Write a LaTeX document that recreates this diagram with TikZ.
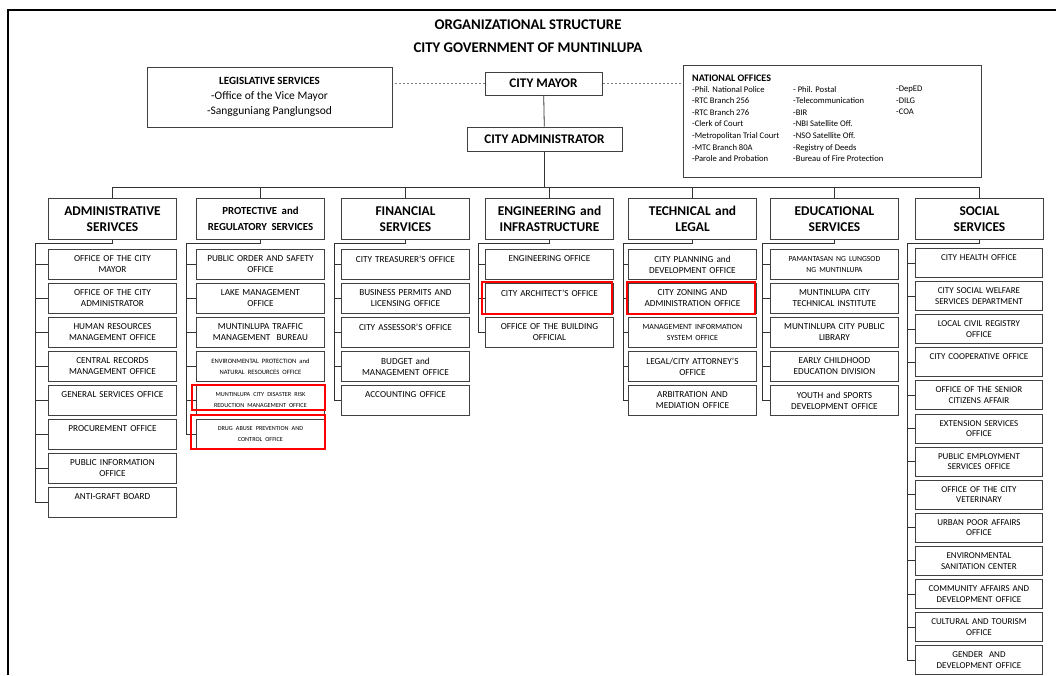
\documentclass[tikz,border=0pt]{standalone}
\usepackage{fontspec}
\setmainfont{Carlito}
\usepackage{tikz}

\tikzset{
  dept/.style={draw=black!75, line width=1pt, minimum width=128pt, minimum height=41pt,
    text width=126pt, align=center, inner sep=0pt, font=\bfseries\fontsize{13.4}{16}\selectfont},
  office/.style={draw=black!75, line width=0.9pt, minimum width=128pt, minimum height=30pt,
    text width=126pt, align=center, inner sep=0pt, font=\fontsize{9.2}{11}\selectfont},
  social/.style={office, minimum width=127pt, minimum height=29pt, font=\fontsize{9}{10.5}\selectfont},
  chief/.style={draw=black!75, line width=1pt, inner sep=0pt, font=\bfseries\fontsize{13.2}{15}\selectfont},
  hilite/.style={draw=red, line width=1.6pt},
  link/.style={draw=black!80, line width=0.8pt},
  dotlink/.style={draw=black!50, line width=0.8pt, dash pattern=on 2pt off 2pt},
}

\begin{document}
\begin{tikzpicture}[x=1pt,y=-1pt]
\useasboundingbox (0,0) rectangle (1056,675);
\draw[line width=2pt] (7.5,675) -- (7.5,9.5) -- (1056,9.5);

\node[font=\bfseries\fontsize{14.8}{16}\selectfont] (title) at (528,25) {ORGANIZATIONAL STRUCTURE};
\node[font=\bfseries\fontsize{14.8}{16}\selectfont] (subtitle) at (528,48) {CITY GOVERNMENT OF MUNTINLUPA};

\node[chief, minimum width=117pt, minimum height=23pt] (mayor) at (543.5,83.5) {CITY MAYOR};
\node[chief, minimum width=155pt, minimum height=24pt] (cadm) at (544.5,139) {CITY ADMINISTRATOR};

\node[draw=black!75, line width=1pt, minimum width=245pt, minimum height=60pt, align=center,
  font=\fontsize{11.5}{15}\selectfont] (leg) at (269.5,97)
  {\textbf{\fontsize{11}{15}\selectfont LEGISLATIVE SERVICES}\\-Office of the Vice Mayor\\-Sangguniang Panglungsod};

\node[draw=black!75, line width=1pt, minimum width=298pt, minimum height=112pt] (nat) at (832,121) {};
\node[anchor=west, inner sep=0pt, font=\bfseries\fontsize{10}{12}\selectfont] (natT) at (692,78) {NATIONAL OFFICES};
\node[anchor=north west, align=left, inner sep=0pt, font=\fontsize{8.6}{11.6}\selectfont] (natA) at (692,86)
  {-Phil. National Police\\-RTC Branch 256\\-RTC Branch 276\\-Clerk of Court\\-Metropolitan Trial Court\\-MTC Branch 80A\\-Parole and Probation};
\node[anchor=north west, align=left, inner sep=0pt, font=\fontsize{8.6}{11.6}\selectfont] (natB) at (793,86)
  {- Phil. Postal\\-Telecommunication\\-BIR\\-NBI Satellite Off.\\-NSO Satellite Off.\\-Registry of Deeds\\-Bureau of Fire Protection};
\node[anchor=north west, align=left, inner sep=0pt, font=\fontsize{8.6}{11.6}\selectfont] (natC) at (896,86)
  {-DepED\\-DILG\\-COA};

\draw[link] (mayor) -- (cadm);
\draw[dotlink] (mayor.west) -- (mayor.west -| leg.east);
\draw[dotlink] (mayor.east) -- (mayor.east -| nat.west);

\foreach \d/\x/\t in {adm/48/{ADMINISTRATIVE\\SERIVCES},
    prt/196/{\fontsize{10.8}{14}\selectfont PROTECTIVE and\\REGULATORY SERVICES},
    fin/341/{FINANCIAL\\SERVICES}, eng/485/{ENGINEERING and\\INFRASTRUCTURE},
    tec/628/{TECHNICAL and\\LEGAL}, edu/770/{EDUCATIONAL\\SERVICES}, soc/915/{SOCIAL\\SERVICES}}
  \node[dept, anchor=north west] (\d) at (\x,198) {\t};

\coordinate (bar) at (544.5,187);
\draw[link] (cadm) -- (bar);
\draw[link] (bar -| adm.north) -- (bar -| soc.north);
\foreach \d in {adm,prt,fin,eng,tec,edu,soc}
  \draw[link] (bar -| \d.north) -- (\d.north);

\foreach \t [count=\i] in {{OFFICE OF THE CITY\\MAYOR}, {OFFICE OF THE CITY\\ADMINISTRATOR},
    {HUMAN RESOURCES\\MANAGEMENT OFFICE}, {CENTRAL RECORDS\\MANAGEMENT OFFICE},
    {GENERAL SERVICES OFFICE\\\mbox{}}, {PROCUREMENT OFFICE\\\mbox{}},
    {PUBLIC INFORMATION\\OFFICE}, {ANTI-GRAFT BOARD\\\mbox{}}}
  \node[office, anchor=north west] (adm\i) at (48,{249+34*(\i-1)}) {\t};

\foreach \t [count=\i] in {{PUBLIC ORDER AND SAFETY\\OFFICE}, {LAKE MANAGEMENT\\OFFICE},
    {MUNTINLUPA TRAFFIC\\MANAGEMENT\ \ BUREAU},
    {\fontsize{6.6}{9.5}\selectfont ENVIRONMENTAL PROTECTION and\\NATURAL RESOURCES OFFICE},
    {\fontsize{6.2}{9.5}\selectfont MUNTINLUPA CITY DISASTER RISK\\REDUCTION MANAGEMENT OFFICE},
    {\fontsize{6.2}{9.5}\selectfont DRUG ABUSE PREVENTION AND\\CONTROL OFFICE}}
  \node[office, anchor=north west] (prt\i) at (196,{249+34*(\i-1)}) {\t};

\foreach \t [count=\i] in {{CITY TREASURER'S OFFICE\\\mbox{}}, {BUSINESS PERMITS AND\\LICENSING OFFICE},
    {CITY ASSESSOR'S OFFICE\\\mbox{}}, {BUDGET and\\MANAGEMENT OFFICE}, {ACCOUNTING OFFICE\\\mbox{}}}
  \node[office, anchor=north west] (fin\i) at (341,{249+34*(\i-1)}) {\t};

\foreach \t [count=\i] in {{ENGINEERING OFFICE\\\mbox{}}, {CITY ARCHITECT'S OFFICE\\\mbox{}},
    {OFFICE OF THE BUILDING\\OFFICIAL}}
  \node[office, anchor=north west] (eng\i) at (485,{249+34*(\i-1)}) {\t};

\foreach \t [count=\i] in {{CITY PLANNING and\\DEVELOPMENT OFFICE}, {CITY ZONING AND\\ADMINISTRATION OFFICE},
    {\fontsize{7.9}{11}\selectfont MANAGEMENT INFORMATION\\SYSTEM OFFICE},
    {LEGAL/CITY ATTORNEY'S\\OFFICE}, {ARBITRATION AND\\MEDIATION OFFICE}}
  \node[office, anchor=north west] (tec\i) at (628,{249+34*(\i-1)}) {\t};

\foreach \t [count=\i] in {{\fontsize{7.7}{11}\selectfont PAMANTASAN NG LUNGSOD\\NG MUNTINLUPA},
    {MUNTINLUPA CITY\\TECHNICAL INSTITUTE}, {MUNTINLUPA CITY PUBLIC\\LIBRARY},
    {EARLY CHILDHOOD\\EDUCATION DIVISION}, {YOUTH and SPORTS\\DEVELOPMENT OFFICE}}
  \node[office, anchor=north west] (edu\i) at (770,{249+34*(\i-1)}) {\t};

\foreach \t [count=\i] in {{CITY HEALTH OFFICE\\\mbox{}}, {CITY SOCIAL WELFARE\\SERVICES DEPARTMENT},
    {LOCAL CIVIL REGISTRY\\OFFICE}, {CITY COOPERATIVE OFFICE\\\mbox{}},
    {OFFICE OF THE SENIOR\\CITIZENS AFFAIR}, {EXTENSION SERVICES\\OFFICE},
    {PUBLIC EMPLOYMENT\\SERVICES OFFICE}, {OFFICE OF THE CITY\\VETERINARY},
    {URBAN POOR AFFAIRS\\OFFICE}, {ENVIRONMENTAL\\SANITATION CENTER},
    {COMMUNITY AFFAIRS AND\\DEVELOPMENT OFFICE}, {CULTURAL AND TOURISM\\OFFICE},
    {GENDER\ \ AND\\DEVELOPMENT OFFICE}}
  \node[social, anchor=north west] (soc\i) at (915,{248+33.1*(\i-1)}) {\t};

\foreach \d/\s/\n in {adm/35/8, prt/186/6, fin/334/5, eng/478/3, tec/623/5, edu/762/5, soc/907/13} {
  \coordinate (\d-s) at (\s,243);
  \draw[link] (\d.south) |- (\d-s) |- (\d\n.west);
  \foreach \i in {1,...,\n}
    \draw[link] (\d-s |- \d\i.west) -- (\d\i.west);
}

\draw[hilite] ([xshift=-4pt]prt5.north west) rectangle ([yshift=6pt]prt5.south east);
\draw[hilite] ([xshift=-5pt,yshift=4pt]prt6.north west) rectangle ([yshift=1pt]prt6.south east);
\draw[hilite] ([xshift=-3pt,yshift=1pt]eng2.north west) rectangle ([xshift=-2pt]eng2.south east);
\draw[hilite] ([xshift=-1pt,yshift=1pt]tec2.north west) rectangle ([xshift=-2pt]tec2.south east);
\end{tikzpicture}
\end{document}
